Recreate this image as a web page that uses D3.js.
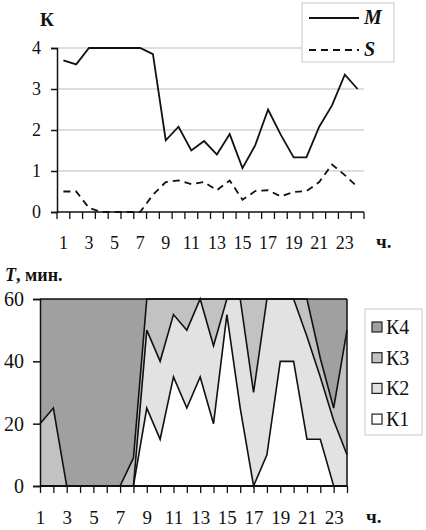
<!DOCTYPE html>
<html>
<head>
<meta charset="utf-8">
<script src="https://cdn.jsdelivr.net/npm/d3@7"></script>
<style>
  body { margin: 0; background: #fff; }
  svg text { font-family: "Times New Roman", Times, "Liberation Serif", "Nimbus Roman", "FreeSerif", "Noto Serif", "DejaVu Serif", serif !important; fill: #111; }
</style>
</head>
<body>
<svg id="chart" width="426" height="530"></svg>
<script>
// hours
const hours = d3.range(1, 25);
const hourLabels = [1, 3, 5, 7, 9, 11, 13, 15, 17, 19, 21, 23];

// top chart: mean (M) and std (S) of K per hour
const seriesM = [3.7, 3.6, 4, 4, 4, 4, 4, 3.85, 1.75, 2.08, 1.5, 1.73, 1.4, 1.9, 1.07, 1.63, 2.5, 1.88, 1.33, 1.33, 2.08, 2.6, 3.35, 3.0];
const seriesS = [0.5, 0.5, 0.1, 0, 0, 0, 0, 0.42, 0.73, 0.77, 0.68, 0.73, 0.53, 0.77, 0.3, 0.51, 0.53, 0.38, 0.49, 0.51, 0.73, 1.16, 0.9, 0.61];
const topTicks = [0, 1, 2, 3, 4];

// bottom chart: minutes per hour in each class
const K1 = [0, 0, 0, 0, 0, 0, 0, 0, 25, 15, 35, 25, 35, 20, 55, 25, 0, 10, 40, 40, 15, 15, 0, 0];
const K2 = [0, 0, 0, 0, 0, 0, 0, 0, 25, 25, 20, 25, 25, 25, 5, 35, 30, 50, 20, 20, 33, 20, 21, 10];
const K3 = [20, 25, 0, 0, 0, 0, 0, 9, 10, 20, 5, 10, 0, 15, 0, 0, 30, 0, 0, 0, 12, 6, 4, 40];
const K4 = [40, 35, 60, 60, 60, 60, 60, 51, 0, 0, 0, 0, 0, 0, 0, 0, 0, 0, 0, 0, 0, 19, 35, 10];
const bottomTicks = [0, 20, 40, 60];
const classKeys = ['K1', 'K2', 'K3', 'K4'];
const classColors = { K1: '#ffffff', K2: '#e2e2e2', K3: '#c2c2c2', K4: '#a0a0a0' };

const svg = d3.select('#chart');

// ---------- top chart ----------
const xTop = d3.scaleBand().domain(hours).range([57, 364]);
const yTop = d3.scaleLinear().domain([0, 4]).range([212, 48]);

// gridlines
svg.append('g')
    .selectAll('line')
    .data(topTicks.filter(d => d > 0))
    .join('line')
    .attr('x1', 57).attr('x2', 364)
    .attr('y1', d => yTop(d)).attr('y2', d => yTop(d))
    .attr('stroke', '#bdbdbd').attr('stroke-width', 1);

// y axis
const yAxisTop = svg.append('g')
    .attr('transform', 'translate(57,0)')
    .call(d3.axisLeft(yTop).tickValues(topTicks).tickSize(6).tickFormat(d3.format('d')));
yAxisTop.select('.domain').attr('stroke', '#111').attr('stroke-width', 1.5);
yAxisTop.selectAll('.tick line').attr('stroke', '#111').attr('stroke-width', 1.5);
yAxisTop.selectAll('.tick text')
    .attr('x', -16).attr('font-size', 18);

// x axis with ticks at band boundaries
svg.append('line')
    .attr('x1', 57).attr('x2', 364).attr('y1', yTop(0)).attr('y2', yTop(0))
    .attr('stroke', '#111').attr('stroke-width', 1.5);
const topBounds = hours.map(h => xTop(h)).concat([xTop(24) + xTop.bandwidth()]);
svg.append('g')
    .selectAll('line')
    .data(topBounds)
    .join('line')
    .attr('x1', d => d).attr('x2', d => d)
    .attr('y1', yTop(0)).attr('y2', yTop(0) + 7)
    .attr('stroke', '#111').attr('stroke-width', 1.3);
svg.append('g')
    .selectAll('text')
    .data(hourLabels)
    .join('text')
    .attr('x', d => xTop(d) + xTop.bandwidth() / 2)
    .attr('y', 249)
    .attr('text-anchor', 'middle')
    .attr('font-size', 18)
    .text(d => d);

// lines
const lineTop = d3.line()
    .x((d, i) => xTop(hours[i]) + xTop.bandwidth() / 2)
    .y(d => yTop(d));
svg.append('path')
    .attr('d', lineTop(seriesM))
    .attr('fill', 'none').attr('stroke', '#111').attr('stroke-width', 1.8);
svg.append('path')
    .attr('d', lineTop(seriesS))
    .attr('fill', 'none').attr('stroke', '#111').attr('stroke-width', 1.8)
    .attr('stroke-dasharray', '7,5');

// titles
svg.append('text').attr('x', 40).attr('y', 26)
    .attr('font-size', 19).attr('font-weight', 'bold').text('К');
svg.append('text').attr('x', 376).attr('y', 248)
    .attr('font-size', 19).attr('font-weight', 'bold').text('ч.');

// legend
const legTop = svg.append('g');
legTop.append('rect')
    .attr('x', 302).attr('y', 3).attr('width', 92).attr('height', 59)
    .attr('fill', '#fff').attr('stroke', '#c8c8c8').attr('stroke-width', 1);
[['M', null, 18], ['S', '7,5', 50]].forEach(([name, dash, y]) => {
    legTop.append('line')
        .attr('x1', 309).attr('x2', 359).attr('y1', y).attr('y2', y)
        .attr('stroke', '#111').attr('stroke-width', 1.8)
        .attr('stroke-dasharray', dash);
    legTop.append('text')
        .attr('x', 364).attr('y', y + 6)
        .attr('font-size', 20).attr('font-weight', 'bold').attr('font-style', 'italic')
        .text(name);
});

// ---------- bottom chart ----------
const xBot = d3.scalePoint().domain(hours).range([40, 347]);
const yBot = d3.scaleLinear().domain([0, 60]).range([486, 299]);

const table = hours.map((h, i) => ({ hour: h, K1: K1[i], K2: K2[i], K3: K3[i], K4: K4[i] }));
const stacked = d3.stack().keys(classKeys)(table);

const area = d3.area()
    .x(d => xBot(d.data.hour))
    .y0(d => yBot(d[0]))
    .y1(d => yBot(d[1]));
const edge = d3.line()
    .x(d => xBot(d.data.hour))
    .y(d => yBot(d[1]));

svg.append('g')
    .selectAll('path')
    .data(stacked)
    .join('path')
    .attr('d', area)
    .attr('fill', d => classColors[d.key]);

svg.append('g')
    .selectAll('path')
    .data(stacked)
    .join('path')
    .attr('d', edge)
    .attr('fill', 'none')
    .attr('stroke', '#111')
    .attr('stroke-width', 1.6);

// right edge
svg.append('line')
    .attr('x1', 347).attr('x2', 347).attr('y1', yBot(60)).attr('y2', yBot(0))
    .attr('stroke', '#111').attr('stroke-width', 1.5);

// axes
const yAxisBot = svg.append('g')
    .attr('transform', 'translate(40,0)')
    .call(d3.axisLeft(yBot).tickValues(bottomTicks).tickSize(7).tickFormat(d3.format('d')));
yAxisBot.select('.domain').attr('stroke', '#111').attr('stroke-width', 1.5);
yAxisBot.selectAll('.tick line').attr('stroke', '#111').attr('stroke-width', 1.5);
yAxisBot.selectAll('.tick text')
    .attr('x', -16).attr('font-size', 20);

const xAxisBot = svg.append('g')
    .attr('transform', `translate(0,${yBot(0)})`)
    .call(d3.axisBottom(xBot).tickSize(7).tickFormat(d => hourLabels.includes(d) ? d : ''));
xAxisBot.select('.domain').attr('stroke', '#111').attr('stroke-width', 2).attr('d', 'M40,0H347');
xAxisBot.selectAll('.tick line').attr('stroke', '#111').attr('stroke-width', 1.3);
xAxisBot.selectAll('.tick text')
    .attr('y', 38).attr('dy', 0).attr('font-size', 19);

// titles
const tTitle = svg.append('text').attr('x', 5).attr('y', 281)
    .attr('font-size', 18).attr('font-weight', 'bold');
tTitle.append('tspan').attr('font-style', 'italic').text('T');
tTitle.append('tspan').text(', мин.');
svg.append('text').attr('x', 366).attr('y', 523)
    .attr('font-size', 19).attr('font-weight', 'bold').text('ч.');

// legend
const legBot = svg.append('g');
legBot.append('rect')
    .attr('x', 365).attr('y', 309).attr('width', 57).attr('height', 126)
    .attr('fill', '#fff').attr('stroke', '#c8c8c8').attr('stroke-width', 1);
classKeys.slice().reverse().forEach((key, i) => {
    const cy = 327 + i * 30.7;
    legBot.append('rect')
        .attr('x', 372).attr('y', cy - 5).attr('width', 10).attr('height', 10)
        .attr('fill', classColors[key]).attr('stroke', '#222').attr('stroke-width', 1.2);
    legBot.append('text')
        .attr('x', 386).attr('y', cy + 7)
        .attr('font-size', 20)
        .text(key.replace('K', 'К'));
});
</script>
</body>
</html>
